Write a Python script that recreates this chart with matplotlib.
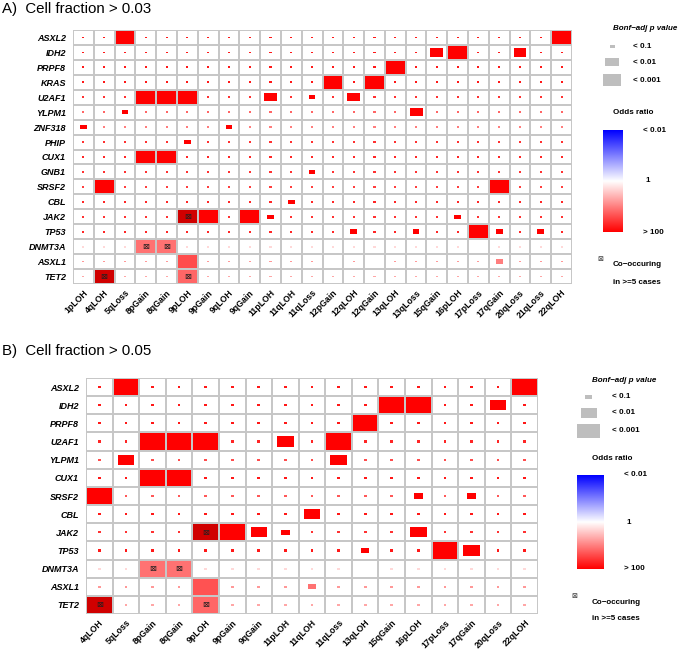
import numpy as np
import matplotlib
matplotlib.use('Agg')
import matplotlib.pyplot as plt
from matplotlib.colors import LinearSegmentedColormap, Normalize
from matplotlib.patches import Rectangle

plt.rcParams['font.family'] = ['Liberation Sans', 'DejaVu Sans']

#%% Panel A data (cell fraction > 0.03)
genes_a = ['ASXL2', 'IDH2', 'PRPF8', 'KRAS', 'U2AF1', 'YLPM1', 'ZNF318', 'PHIP',
           'CUX1', 'GNB1', 'SRSF2', 'CBL', 'JAK2', 'TP53', 'DNMT3A', 'ASXL1', 'TET2']
events_a = ['1pLOH', '4qLOH', '5qLoss', '8pGain', '8qGain', '9pLOH', '9pGain', '9qLOH',
            '9qGain', '11pLOH', '11qLOH', '11qLoss', '12pGain', '12qLOH', '12qGain',
            '13qLOH', '13qLoss', '15qGain', '16pLOH', '17pLoss', '17qGain', '20qLoss',
            '21qLoss', '22qLOH']
# significance level per cell: '.' n.s., '1' p<0.1, '2' p<0.01, '3' p<0.001, ' ' no test
sig_a = [
    '..3....................3',
    '.................23..2..',
    '...............3........',
    '............3.3.........',
    '...333...2.1.2..........',
    '..1.............2.......',
    '1......1................',
    '.....1..................',
    '...33...................',
    '...........1............',
    '.3..................3...',
    '..........1.............',
    '.....33.31........1.....',
    '.............1..1..31.1.',
    '...33.............. ....',
    '.....3...... . .....1...',
    '.3...3..................',
]
# log10 odds ratio of the non-significant dots, one per gene
dot_or_a = [1.8, 1.8, 1.8, 1.8, 1.6, 1.2, 1.0, 1.6, 1.7, 1.6, 1.5, 1.7, 1.6, 1.7, 0.3, 0.8, 0.7]
# log10 odds ratio of significant cells (default > 100); 3 = infinite
cell_or_a = {('DNMT3A', '8pGain'): 1.1, ('DNMT3A', '8qGain'): 1.1,
             ('ASXL1', '9pLOH'): 1.4, ('ASXL1', '17qGain'): 1.0,
             ('TET2', '9pLOH'): 1.2, ('JAK2', '9pLOH'): 3, ('TET2', '4qLOH'): 3}
cooc_a = [('JAK2', '9pLOH'), ('DNMT3A', '8pGain'), ('DNMT3A', '8qGain'),
          ('TET2', '4qLOH'), ('TET2', '9pLOH')]

#%% Panel B data (cell fraction > 0.05)
genes_b = ['ASXL2', 'IDH2', 'PRPF8', 'U2AF1', 'YLPM1', 'CUX1', 'SRSF2', 'CBL', 'JAK2',
           'TP53', 'DNMT3A', 'ASXL1', 'TET2']
events_b = ['4qLOH', '5qLoss', '8pGain', '8qGain', '9pLOH', '9pGain', '9qGain', '11pLOH',
            '11qLOH', '11qLoss', '13qLOH', '15qGain', '16pLOH', '17pLoss', '17qGain',
            '20qLoss', '22qLOH']
sig_b = [
    '.3..............3',
    '...........33..2.',
    '..........3......',
    '..333..2.3.......',
    '.2.......2.......',
    '..33.............',
    '3...........1.1..',
    '........2........',
    '....3321....2....',
    '..........1..32..',
    '..33...... ......',
    '....3...1........',
    '3...3............',
]
dot_or_b = [1.8, 1.8, 1.8, 1.7, 1.4, 1.8, 1.3, 1.8, 1.6, 1.8, 0.3, 0.8, 0.7]
cell_or_b = {('DNMT3A', '8pGain'): 1.1, ('DNMT3A', '8qGain'): 1.1,
             ('ASXL1', '9pLOH'): 1.35, ('ASXL1', '11qLOH'): 1.1,
             ('TET2', '9pLOH'): 1.2, ('JAK2', '9pLOH'): 3, ('TET2', '4qLOH'): 3}
cooc_b = [('JAK2', '9pLOH'), ('DNMT3A', '8pGain'), ('DNMT3A', '8qGain'),
          ('TET2', '4qLOH'), ('TET2', '9pLOH')]

#%% Styles
cmap = LinearSegmentedColormap.from_list('odds', ['#0000FF', '#FFFFFF', '#FF0000'])
cmap.set_over('#D00000')
norm = Normalize(-2, 2)
box_w = [0.10, 0.32, 0.62, 0.93]
box_h = [0.12, 0.30, 0.56, 0.90]
grid_col = '#C6C6C6'


def draw_panel(ax, genes, events, sig, dot_or, cell_or, cooc):
    nr, nc = len(genes), len(events)
    for i, g in enumerate(genes):
        row = sig[i].ljust(nc, '.')
        for j, e in enumerate(events):
            c = row[j]
            if c == ' ':
                continue
            lev = 0 if c == '.' else int(c)
            val = dot_or[i] if lev == 0 else cell_or.get((g, e), 2.0)
            w, h = box_w[lev], box_h[lev]
            ax.add_patch(Rectangle((j + 0.5 - w / 2, i + 0.5 - h / 2), w, h,
                                   facecolor=cmap(norm(val)), edgecolor='none'))
    for g, e in cooc:
        ax.text(events.index(e) + 0.5, genes.index(g) + 0.5, '\u22a0', fontsize=6,
                ha='center', va='center', family='DejaVu Sans', color='#202020')
    for k in range(nc + 1):
        ax.axvline(k, color=grid_col, lw=1.4)
    for k in range(nr + 1):
        ax.axhline(k, color=grid_col, lw=1.4)
    ax.set_xlim(0, nc)
    ax.set_ylim(nr, 0)
    for s in ax.spines.values():
        s.set_visible(False)
    ax.set_xticks(np.arange(nc) + 0.5)
    ax.set_xticklabels(events, rotation=45, ha='right', rotation_mode='anchor',
                       fontsize=6.3, fontweight='bold')
    ax.set_yticks(np.arange(nr) + 0.5)
    ax.set_yticklabels(genes, fontsize=6.5, fontweight='bold', fontstyle='italic')
    ax.tick_params(axis='y', length=0, pad=5)
    ax.tick_params(axis='x', length=0, pad=3)


def draw_legend(lg, x0, y0, sx, cb):
    # x0,y0: left/top of legend title in pixels; cb: colorbar box (x, y, w, h)
    lg.text(x0, y0, 'Bonf\u2212adj p value', fontsize=5.8, fontweight='bold',
            fontstyle='italic', va='center', ha='left')
    sizes = [(sx[0], sx[0] * 0.6), (sx[1], sx[1] * 0.6), (sx[2], sx[2] * 0.65)]
    labels = ['< 0.1', '< 0.01', '< 0.001']
    ys = [y0 + 17, y0 + 33, y0 + 51]
    cx = cb[0] + cb[2] / 2 + (sx[2] - cb[2]) / 2
    for (w, h), lab, yy in zip(sizes, labels, ys):
        lg.add_patch(Rectangle((cx - w / 2, yy - h / 2), w, h, facecolor='#BEBEBE',
                               edgecolor='none'))
        lg.text(x0 + 20, yy, lab, fontsize=5.8, fontweight='bold', va='center')
    lg.text(x0, cb[1] - 17, 'Odds ratio', fontsize=5.8, fontweight='bold', va='center')
    grad = np.linspace(-2, 2, 256).reshape(-1, 1)
    lg.imshow(grad, cmap=cmap, norm=norm, aspect='auto',
              extent=(cb[0], cb[0] + cb[2], cb[1] + cb[3], cb[1]), origin='upper')
    lx = cb[0] + cb[2] + 20
    lg.text(lx, cb[1], '< 0.01', fontsize=5.8, fontweight='bold', va='center')
    lg.text(lx + 2, cb[1] + cb[3] / 2, '1', fontsize=5.8, fontweight='bold', va='center')
    lg.text(lx, cb[1] + cb[3], '> 100', fontsize=5.8, fontweight='bold', va='center')
    my = cb[1] + cb[3] + 27
    lg.text(cb[0] - 3, my, '\u22a0', fontsize=5, family='DejaVu Sans', ha='center',
            va='center', color='#303030')
    lg.text(x0, my + 6, 'Co\u2212occuring', fontsize=5.8, fontweight='bold', va='center')
    lg.text(x0, my + 23, 'in >=5 cases', fontsize=5.8, fontweight='bold', va='center')


fig = plt.figure(figsize=(6.79, 6.51), dpi=100)

axA = fig.add_axes([73 / 679, 1 - 284 / 651, 499 / 679, 254 / 651])
draw_panel(axA, genes_a, events_a, sig_a, dot_or_a, cell_or_a, cooc_a)

axB = fig.add_axes([86 / 679, 1 - 614 / 651, 452 / 679, 236 / 651])
draw_panel(axB, genes_b, events_b, sig_b, dot_or_b, cell_or_b, cooc_b)

# overlay in pixel coordinates for titles and legends
lg = fig.add_axes([0, 0, 1, 1])
lg.axis('off')
lg.text(2, 9, 'A)  Cell fraction > 0.03', fontsize=10.8, va='center', ha='left')
lg.text(2, 351, 'B)  Cell fraction > 0.05', fontsize=10.8, va='center', ha='left')
draw_legend(lg, 613, 29, [5, 14, 18], (603, 130, 20, 102))
draw_legend(lg, 592, 380, [7, 16, 23], (577, 475, 27, 94))
lg.set_xlim(0, 679)
lg.set_ylim(651, 0)

plt.savefig('out.png', dpi=100)
